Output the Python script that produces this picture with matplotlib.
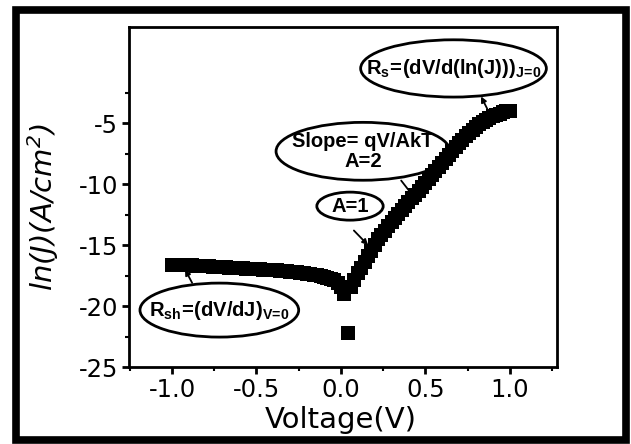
import numpy as np
import matplotlib
matplotlib.use("Agg")
import matplotlib.pyplot as plt
from matplotlib.patches import Ellipse, Rectangle
from matplotlib.ticker import FixedLocator, FormatStrFormatter

plt.rcParams['axes.unicode_minus'] = False
plt.rcParams['mathtext.fontset'] = 'custom'
plt.rcParams['mathtext.rm'] = 'Liberation Sans:bold'
plt.rcParams['mathtext.it'] = 'Liberation Sans:bold'
plt.rcParams['mathtext.bf'] = 'Liberation Sans:bold'
plt.rcParams['mathtext.sf'] = 'DejaVu Sans:italic'

# dark J-V sweep (V in volts, ln J in A/cm^2)
voltage = [-1.00, -0.98, -0.96, -0.94, -0.92, -0.90, -0.88, -0.86, -0.84, -0.82,
           -0.80, -0.78, -0.76, -0.74, -0.72, -0.70, -0.68, -0.66, -0.64, -0.62,
           -0.60, -0.58, -0.56, -0.54, -0.52, -0.50, -0.48, -0.46, -0.44, -0.42,
           -0.40, -0.38, -0.36, -0.34, -0.32, -0.30, -0.28, -0.26, -0.24, -0.22,
           -0.20, -0.18, -0.16, -0.14, -0.12, -0.10, -0.08, -0.06, -0.04, -0.02,
           0.00, 0.02, 0.04, 0.06, 0.08, 0.10, 0.12, 0.14, 0.16, 0.18,
           0.20, 0.22, 0.24, 0.26, 0.28, 0.30, 0.32, 0.34, 0.36, 0.38,
           0.40, 0.42, 0.44, 0.46, 0.48, 0.50, 0.52, 0.54, 0.56, 0.58,
           0.60, 0.62, 0.64, 0.66, 0.68, 0.70, 0.72, 0.74, 0.76, 0.78,
           0.80, 0.82, 0.84, 0.86, 0.88, 0.90, 0.92, 0.94, 0.96, 0.98, 1.00]
ln_j = [-16.60, -16.61, -16.62, -16.63, -16.64, -16.66, -16.67, -16.68, -16.70, -16.71,
        -16.72, -16.74, -16.76, -16.78, -16.80, -16.82, -16.83, -16.85, -16.86, -16.88,
        -16.89, -16.91, -16.92, -16.94, -16.95, -16.97, -16.98, -17.00, -17.02, -17.04,
        -17.06, -17.08, -17.10, -17.12, -17.14, -17.17, -17.19, -17.22, -17.25, -17.29,
        -17.33, -17.37, -17.42, -17.47, -17.53, -17.60, -17.68, -17.78, -17.90, -18.08,
        -18.40, -19.00, -22.20, -18.45, -17.85, -17.30, -16.85, -16.35, -15.90, -15.45,
        -14.95, -14.50, -14.15, -13.80, -13.45, -13.10, -12.75, -12.45, -12.10, -11.80,
        -11.45, -11.15, -10.85, -10.55, -10.20, -9.90, -9.60, -9.25, -8.95, -8.60,
        -8.25, -7.95, -7.60, -7.25, -6.95, -6.65, -6.35, -6.05, -5.80, -5.55,
        -5.30, -5.10, -4.90, -4.72, -4.56, -4.42, -4.30, -4.20, -4.10, -4.03, -3.98]

x_major = [-1.0, -0.5, 0.0, 0.5, 1.0]
x_minor = [-1.25, -0.75, -0.25, 0.25, 0.75, 1.25]
y_major = [-25, -20, -15, -10, -5]
y_minor = [-22.5, -17.5, -12.5, -7.5, -2.5]

# callouts: text, ellipse centre, ellipse size, arrow tip, arrow tail
notes = [
    (r'$\mathrm{R_{s}\!=\!(dV/d(ln(J)))_{J\!=\!0}}$', (0.667, -0.5), (1.10, 4.7), (0.83, -2.8), (0.87, -3.9)),
    ('Slope= qV/AkT\nA=2', (0.131, -7.3), (1.03, 4.75), (0.43, -11.0), (0.357, -9.7)),
    ('A=1', (0.054, -11.8), (0.393, 2.3), (0.161, -15.0), (0.077, -13.8)),
    (r'$\mathrm{R_{sh}\!=\!(dV/dJ)_{V\!=\!0}}$', (-0.72, -20.33), (0.94, 4.43), (-0.923, -17.0), (-0.881, -18.1)),
]

fig = plt.figure(figsize=(6.31, 4.44), dpi=100)
ax = fig.add_axes([129 / 631, 1 - 367 / 444, 428 / 631, 340 / 444])

ax.plot(voltage, ln_j, 's', color='black', ms=9.8, mew=0)

for text, c, (w, h), tip, tail in notes:
    ax.add_patch(Ellipse(c, w, h, fill=False, ec='black', lw=2))
    ax.text(c[0], c[1], text, ha='center', va='center', fontsize=14.5,
            fontweight='bold', family='Liberation Sans', linespacing=1.1)
    ax.annotate('', xy=tip, xytext=tail,
                arrowprops=dict(arrowstyle='-|>', color='black', lw=1.3,
                                mutation_scale=8, shrinkA=0, shrinkB=0))

ax.set_xlim(-1.255, 1.28)
ax.set_ylim(-25, 2.9)
ax.xaxis.set_major_locator(FixedLocator(x_major))
ax.xaxis.set_minor_locator(FixedLocator(x_minor))
ax.yaxis.set_major_locator(FixedLocator(y_major))
ax.yaxis.set_minor_locator(FixedLocator(y_minor))
ax.xaxis.set_major_formatter(FormatStrFormatter('%.1f'))
ax.yaxis.set_major_formatter(FormatStrFormatter('%d'))

ax.tick_params(which='major', direction='out', length=5, width=2, labelsize=17.5, pad=3)
ax.tick_params(which='minor', direction='out', length=3, width=1.5)
ax.tick_params(top=False, right=False, which='both')
for s in ax.spines.values():
    s.set_linewidth(2)

ax.set_xlabel('Voltage(V)', fontsize=21)
ax.xaxis.set_label_coords(0.495, -0.115)
ax.set_ylabel(r'$\mathsf{ln(J)(A/cm^{2})}$', fontsize=21)
ax.yaxis.set_label_coords(-0.16, 0.47)

# black frame round the whole picture
fig.add_artist(Rectangle((15.5 / 631, 4 / 444), 610 / 631, 429.5 / 444,
                         transform=fig.transFigure, fill=False, ec='black', lw=5.5))

fig.savefig('out.png', dpi=100)
